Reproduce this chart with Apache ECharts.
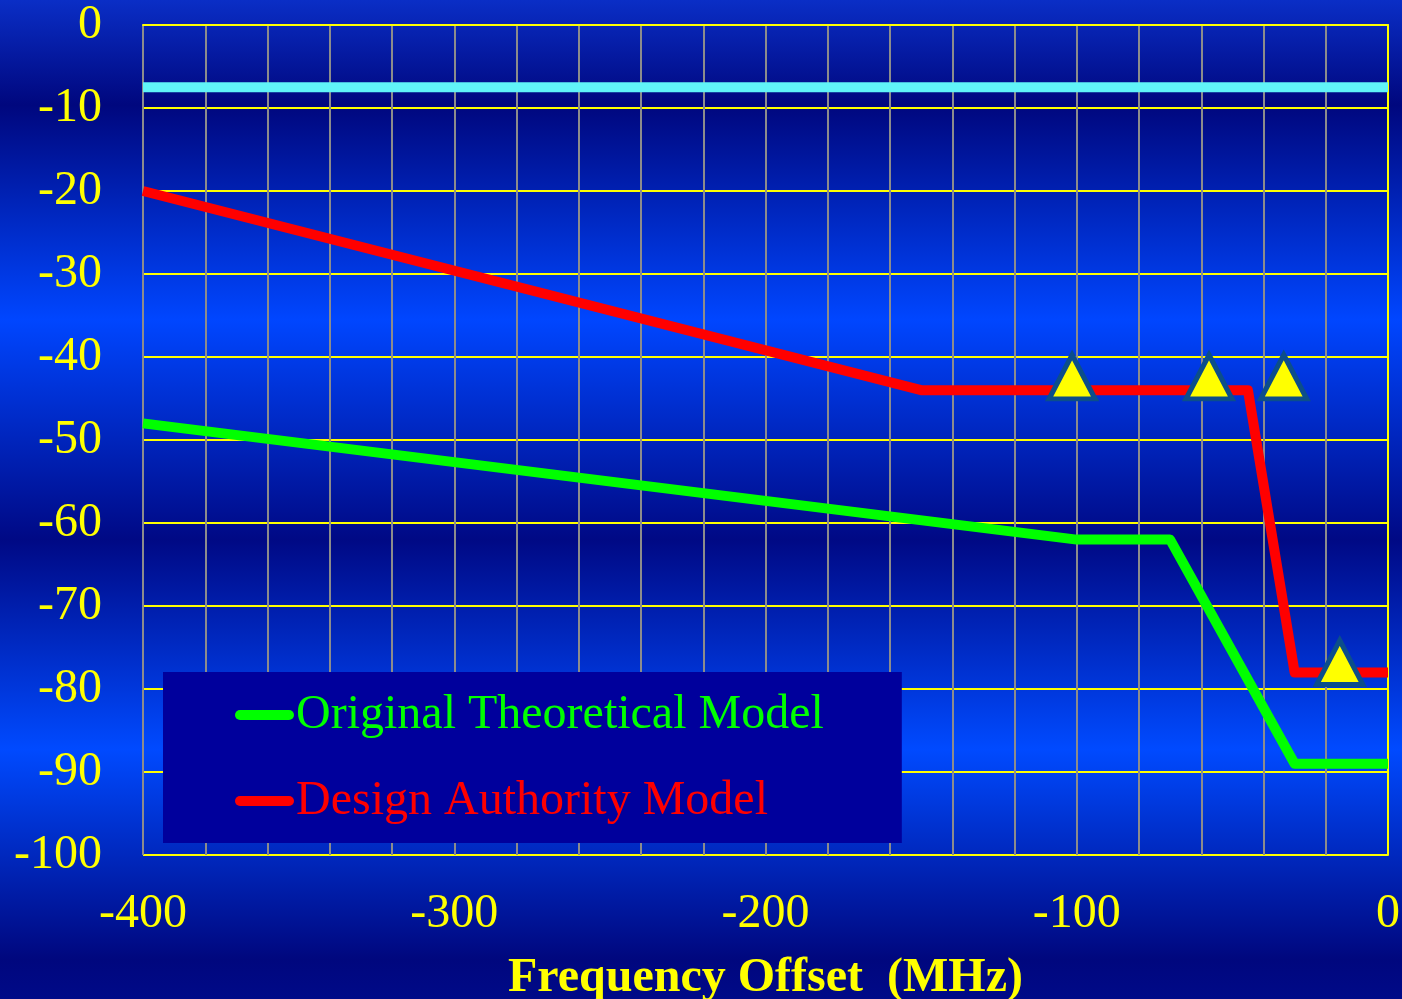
<!DOCTYPE html>
<html>
<head>
<meta charset="utf-8">
<title>Frequency Offset Attenuation Models</title>
<script src="https://cdn.jsdelivr.net/npm/echarts@6/dist/echarts.min.js"></script>
<style>
  html, body { margin: 0; padding: 0; width: 100%; height: 100%; overflow: hidden; }
  #chart { width: 1402px; height: 999px; }
</style>
</head>
<body>
<div id="chart"></div>
<script>
// Frequency offset (MHz) vs. level (dB)
const xTicks = [-400, -300, -200, -100, 0];
const yTicks = [0, -10, -20, -30, -40, -50, -60, -70, -80, -90, -100];

const theoreticalName = 'Original Theoretical Model';
const theoreticalFreq = [-400, -100, -70, -30, 0];
const theoreticalLevel = [-48, -62, -62, -89, -89];

const authorityName = 'Design Authority Model';
const authorityFreq = [-400, -150, -45, -30, 0];
const authorityLevel = [-20, -44, -44, -78, -78];

const limitFreq = [-400, 0];
const limitLevel = [-7.5, -7.5];

const measuredFreq = [-101.5, -57.5, -33.5, -15.5];
const measuredLevel = [-42.4, -42.4, -42.4, -76.8];

const pairs = (xs, ys) => xs.map((x, i) => [x, ys[i]]);

const FONT = "'Liberation Serif', 'Times New Roman', serif";
const YELLOW = '#ffff00';

const chart = echarts.init(document.getElementById('chart'), null, { renderer: 'canvas' });

chart.setOption({
  backgroundColor: {
    type: 'linear', x: 0, y: 0, x2: 0, y2: 1,
    colorStops: [
      { offset: 0.00, color: '#0a2ec6' },
      { offset: 0.105, color: '#00077e' },
      { offset: 0.32, color: '#0046ff' },
      { offset: 0.54, color: '#000985' },
      { offset: 0.75, color: '#004aff' },
      { offset: 0.96, color: '#00077e' },
      { offset: 1.00, color: '#000a88' }
    ]
  },
  animation: false,
  grid: { left: 143, right: 14, top: 25, bottom: 144, containLabel: false, outerBoundsMode: 'none' },
  legend: {
    orient: 'vertical',
    left: 163,
    top: 672,
    padding: [12, 78, 11, 72],
    itemGap: 24,
    itemWidth: 59,
    itemHeight: 10,
    backgroundColor: '#00009c',
    selectedMode: false,
    icon: 'path://M5,0 H54 A5,5 0 0 1 54,10 H5 A5,5 0 0 1 5,0 Z',
    textStyle: { fontFamily: FONT, fontSize: 48, lineHeight: 56, padding: [6, 0, 0, -3] },
    data: [
      { name: theoreticalName, textStyle: { color: '#00ff00' } },
      { name: authorityName, textStyle: { color: '#ff0000' } }
    ]
  },
  xAxis: {
    type: 'value',
    min: -400,
    max: 0,
    interval: 20,
    name: 'Frequency Offset  (MHz)',
    nameLocation: 'middle',
    nameGap: 96,
    nameTextStyle: { color: YELLOW, fontFamily: FONT, fontSize: 48, fontWeight: 'bold', lineHeight: 56 },
    axisLine: { show: true, lineStyle: { color: YELLOW, width: 2 } },
    axisTick: { show: false },
    axisLabel: {
      color: YELLOW, fontFamily: FONT, fontSize: 48, margin: 35,
      formatter: v => (xTicks.indexOf(v) >= 0 ? String(v) : '')
    },
    splitLine: { show: true, lineStyle: { color: '#8c8c8c', width: 2 } }
  },
  yAxis: {
    type: 'value',
    min: -100,
    max: 0,
    interval: 10,
    axisLine: { show: true, lineStyle: { color: YELLOW, width: 2 } },
    axisTick: { show: false },
    axisLabel: {
      color: YELLOW, fontFamily: FONT, fontSize: 48, margin: 41,
      formatter: v => (yTicks.indexOf(v) >= 0 ? String(v) : '')
    },
    splitLine: { show: true, lineStyle: { color: YELLOW, width: 2 } }
  },
  series: [
    {
      type: 'line',
      data: pairs(limitFreq, limitLevel),
      symbol: 'none',
      lineStyle: { color: '#60f4f8', width: 10 },
      silent: true,
      z: 3
    },
    {
      name: theoreticalName,
      type: 'line',
      data: pairs(theoreticalFreq, theoreticalLevel),
      symbol: 'none',
      itemStyle: { color: '#00ff00' },
      lineStyle: { color: '#00ff00', width: 10, join: 'round' },
      z: 4
    },
    {
      name: authorityName,
      type: 'line',
      data: pairs(authorityFreq, authorityLevel),
      symbol: 'none',
      itemStyle: { color: '#ff0000' },
      lineStyle: { color: '#ff0000', width: 10, join: 'round' },
      z: 4
    },
    {
      type: 'scatter',
      data: pairs(measuredFreq, measuredLevel),
      symbol: 'triangle',
      symbolSize: [46, 44],
      itemStyle: { color: '#ffff00', borderColor: '#0c4e8a', borderWidth: 5, opacity: 1 },
      silent: true,
      z: 6
    }
  ]
});
</script>
</body>
</html>
